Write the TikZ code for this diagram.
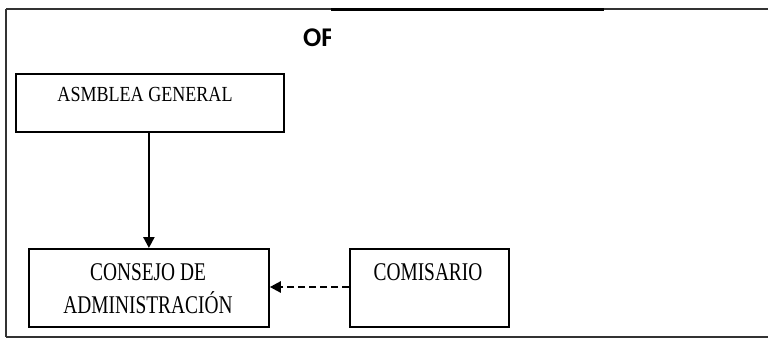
\documentclass[tikz,border=0pt]{standalone}
\usepackage{fontspec}
\setmainfont{Liberation Serif}
\newfontfamily\boxfontA[FakeStretch=0.84]{Liberation Serif}
\newfontfamily\boxfontB[FakeStretch=0.76]{Liberation Serif}
\newfontfamily\titlefont{Carlito}
\usetikzlibrary{arrows.meta}
\begin{document}
\begin{tikzpicture}[x=1pt,y=-1pt,
  orgbox/.style={draw=black,line width=1.8pt,inner sep=0pt,anchor=north west},
  frameline/.style={line width=2.2pt,draw=black!80},
  link/.style={line width=2.4pt,-{Triangle[length=11pt,width=11pt]}}]
\path[use as bounding box] (0,0) rectangle (768,341);
% outer frame (its right side lies outside the picture)
\coordinate (ftl) at (6,9);
\coordinate (fbl) at (6,337);
\coordinate (ftr) at (768,9);
\coordinate (fbr) at (768,337);
\draw[frameline] (ftl) -- (ftr);
\draw[frameline] (fbl) -- (fbr);
\draw[frameline] (ftl) -- (fbl);
% title
\node[font=\titlefont\bfseries\fontsize{27}{30}\selectfont,anchor=base west,inner sep=0pt] (title) at (303,46) {OF};
\fill[white] (331,10.5) rectangle (604,58);
\draw[line width=2.4pt] (331,9.5) -- (604,9.5);
% boxes
\node[orgbox,minimum width=268pt,minimum height=58pt] (asm) at (15,73) {};
\node[font=\boxfontA\fontsize{21.5}{24}\selectfont,anchor=base,inner sep=0pt] (asmt) at (145,101.5) {ASMBLEA GENERAL};
\node[orgbox,minimum width=240pt,minimum height=78pt] (cons) at (28,248) {};
\node[font=\boxfontB\fontsize{25.5}{33}\selectfont,anchor=base,inner sep=0pt] (cons1) at (148,280) {CONSEJO DE};
\node[font=\boxfontB\fontsize{25.5}{33}\selectfont,anchor=base,inner sep=0pt] (cons2) at (148,313) {ADMINISTRACIÓN};
\node[orgbox,minimum width=159pt,minimum height=78pt] (com) at (349,248) {};
\node[font=\boxfontB\fontsize{25.5}{33}\selectfont,anchor=base,inner sep=0pt] (comt) at (428,280) {COMISARIO};
% connectors
\draw[link] (asm.south -| cons.north) -- (cons.north);
\draw[link,dash pattern=on 7pt off 4pt] (com.west |- 0,287) -- (cons.east |- 0,287);
\end{tikzpicture}
\end{document}
